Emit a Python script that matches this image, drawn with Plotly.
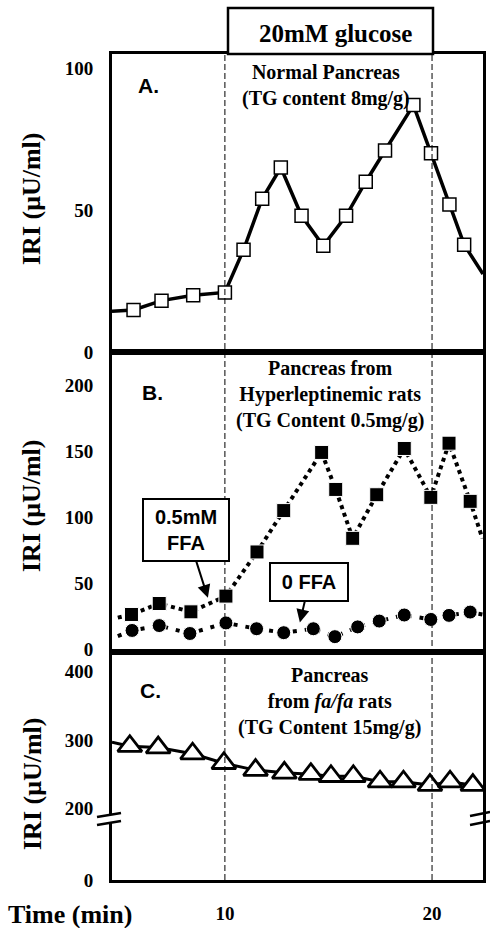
import plotly.graph_objects as go

# ---------------- data ----------------
# Panel A: normal pancreas (open squares); first/last entries are where the line meets the frame
t_a = [4.55, 5.59, 6.94, 8.47, 10.0, 10.9, 11.8, 12.7, 13.7, 14.75, 15.85, 16.8, 17.73, 19.1, 19.95, 20.84, 21.55, 22.46]
iri_a = [14.4, 14.8, 18.1, 20.0, 21.0, 36.0, 54.0, 65.0, 48.0, 37.4, 48.0, 60.0, 71.0, 87.0, 70.0, 52.0, 37.8, 27.5]

# Panel B: hyperleptinemic rats, 0.5mM FFA (filled squares) and 0 FFA (filled circles)
t_b_ffa = [4.83, 5.49, 6.83, 8.36, 10.05, 11.55, 12.84, 14.67, 15.35, 16.17, 17.33, 18.66, 19.94, 20.82, 21.84, 22.43]
iri_b_ffa = [24.0, 26.4, 34.7, 28.4, 40.3, 73.7, 105.0, 149.0, 121.0, 84.0, 117.0, 152.0, 115.0, 156.0, 112.0, 84.0]
t_b_0 = [4.83, 5.52, 6.83, 8.31, 10.05, 11.53, 12.84, 14.27, 15.31, 16.41, 17.45, 18.66, 19.94, 20.82, 21.84, 22.43]
iri_b_0 = [10.0, 14.3, 18.0, 12.0, 20.0, 15.6, 12.6, 15.6, 9.6, 17.0, 21.4, 26.0, 22.6, 25.7, 28.2, 26.4]

# Panel C: fa/fa rats (open triangles)
t_c = [4.55, 5.41, 6.78, 8.44, 9.95, 11.48, 12.87, 14.15, 15.12, 16.2, 17.49, 18.62, 19.9, 20.87, 21.97, 22.46]
iri_c = [297, 291, 289, 280, 266, 256, 252, 250, 247, 247, 239, 239, 234, 239, 234, 230]

# axis ticks / labels
x_tickvals = [10, 20]
x_ticktext = ["10", "20"]
a_tickvals = [0, 50, 100]
b_tickvals = [0, 50, 100, 150, 200]
c_tickvals = [95, 200, 300, 400]          # broken axis: lowest tick stands for 0
c_ticktext = ["0", "200", "300", "400"]
glucose_on, glucose_off = 10, 20

# --------------- figure ---------------
SERIF = "Liberation Serif"
SANS = "Liberation Sans"
W, H = 490, 928
L, R, T, B = 112, 7, 54, 48
PW, PH = W - L - R, H - T - B

def py(px):  # pixel row -> paper y
    return (H - B - px) / PH

def pxx(px):  # pixel col -> paper x
    return (px - L) / PW

def msize(n, s):
    return [0] + [s] * (n - 2) + [0]

fig = go.Figure()

fig.add_trace(go.Scatter(
    x=t_a, y=iri_a, xaxis="x", yaxis="y", mode="lines+markers",
    line=dict(color="black", width=3.5),
    marker=dict(symbol="square", size=msize(len(t_a), 13), color="white", opacity=1,
                line=dict(color="black", width=1.5)),
    showlegend=False))

fig.add_trace(go.Scatter(
    x=t_b_ffa, y=iri_b_ffa, xaxis="x2", yaxis="y2", mode="lines+markers",
    line=dict(color="black", width=4, dash="4px,4px"),
    marker=dict(symbol="square", size=msize(len(t_b_ffa), 14), color="black", opacity=1),
    showlegend=False))

fig.add_trace(go.Scatter(
    x=t_b_0, y=iri_b_0, xaxis="x2", yaxis="y2", mode="lines+markers",
    line=dict(color="black", width=4, dash="4px,8px"),
    marker=dict(symbol="circle", size=msize(len(t_b_0), 14), color="black", opacity=1),
    showlegend=False))

fig.add_trace(go.Scatter(
    x=t_c, y=iri_c, xaxis="x3", yaxis="y3", mode="lines+markers",
    line=dict(color="black", width=3),
    marker=dict(symbol="triangle-up", size=msize(len(t_c), 21), color="white", opacity=1,
                line=dict(color="black", width=2.8)),
    showlegend=False))

xr = [4.55, 22.46]
common_x = dict(range=xr, showgrid=False, zeroline=False, showline=True, mirror=True,
                linecolor="black", linewidth=3, ticks="", tickvals=x_tickvals,
                ticktext=x_ticktext, automargin=False)
common_y = dict(showgrid=False, zeroline=False, showline=True, mirror=True,
                linecolor="black", linewidth=3, ticks="", automargin=False,
                tickfont=dict(family=SERIF, size=19, color="black", weight="bold"),
                ticklabelstandoff=12)

yA0, yB0 = py(352), py(652)
fig.update_layout(
    width=W, height=H,
    margin=dict(l=L, r=R, t=T, b=B, autoexpand=False),
    paper_bgcolor="white", plot_bgcolor="white",
    xaxis=dict(**common_x, anchor="y", showticklabels=False),
    xaxis2=dict(**common_x, anchor="y2", matches="x", showticklabels=False),
    xaxis3=dict(**common_x, anchor="y3", matches="x", showticklabels=True,
                tickfont=dict(family=SERIF, size=19, color="black", weight="bold"),
                ticklabelstandoff=14),
    yaxis=dict(**common_y, domain=[yA0, 1], range=[0, 105], tickvals=a_tickvals, anchor="x"),
    yaxis2=dict(**common_y, domain=[yB0, yA0], range=[-2, 225], tickvals=b_tickvals, anchor="x2"),
    yaxis3=dict(**common_y, domain=[0, yB0], range=[95, 429], tickvals=c_tickvals,
                ticktext=c_ticktext, anchor="x3"),
)

shapes = []
# dashed glucose on/off lines across all panels
for xv in (glucose_on, glucose_off):
    shapes.append(dict(type="line", xref="x3", yref="paper", x0=xv, x1=xv, y0=0, y1=1,
                       line=dict(color="black", width=1, dash="6px,3px")))
# glucose box
shapes.append(dict(type="rect", xref="paper", yref="paper", x0=pxx(228), x1=pxx(433),
                   y0=1, y1=py(8), line=dict(color="black", width=2.5), fillcolor="white"))
# axis break marks (panel C)
for side_x0, side_x1, ys in ((pxx(97), pxx(121), (815, 823)), (pxx(470), pxx(490), (814, 823))):
    shapes.append(dict(type="rect", xref="paper", yref="paper",
                       x0=side_x0 + 0.02, x1=side_x1 - 0.02, y0=py(ys[1]), y1=py(ys[0]),
                       line=dict(width=0), fillcolor="white"))
    for yy in ys:
        shapes.append(dict(type="line", xref="paper", yref="paper",
                           x0=side_x0, x1=side_x1, y0=py(yy + 2), y1=py(yy - 2),
                           line=dict(color="black", width=2.5)))
fig.update_layout(shapes=shapes)

title_font = dict(family=SERIF, size=20, color="black", weight="bold")
big_font = dict(family=SERIF, size=26, color="black", weight="bold")
lab_font = dict(family=SANS, size=21, color="black", weight="bold")
box_font = dict(family=SANS, size=20, color="black", weight="bold")

ann = [
    dict(text="20mM glucose", x=pxx(335), y=py(33), font=dict(family=SERIF, size=25, color="black", weight="bold")),
    dict(text="Normal Pancreas<br>(TG content 8mg/g)", x=pxx(326), y=py(86), font=title_font),
    dict(text="Pancreas from<br>Hyperleptinemic rats<br>(TG Content 0.5mg/g)", x=pxx(330), y=py(394), font=title_font),
    dict(text="Pancreas<br>from <i>fa/fa</i> rats<br>(TG Content 15mg/g)", x=pxx(329), y=py(701), font=title_font),
    dict(text="A.", x=pxx(148), y=py(86), font=lab_font),
    dict(text="B.", x=pxx(152), y=py(392), font=lab_font),
    dict(text="C.", x=pxx(150), y=py(690), font=lab_font),
    dict(text="IRI (μU/ml)", x=pxx(32), y=py(199), textangle=-90, font=big_font),
    dict(text="IRI (μU/ml)", x=pxx(32), y=py(506), textangle=-90, font=big_font),
    dict(text="IRI (μU/ml)", x=pxx(32), y=py(784), textangle=-90, font=big_font),
    dict(text="Time (min)", x=pxx(70), y=py(914), font=big_font),
]
annotations = []
for a in ann:
    d = dict(xref="paper", yref="paper", showarrow=False, xanchor="center", yanchor="middle")
    d.update(a)
    annotations.append(d)

# boxed FFA labels with arrows
annotations.append(dict(
    text="0.5mM<br>FFA", xref="x2", yref="y2", x=9.18, y=39,
    axref="x2", ayref="y2", ax=8.14, ay=90, showarrow=True,
    arrowhead=2, arrowsize=1.3, arrowwidth=2, arrowcolor="black",
    font=box_font, bordercolor="black", borderwidth=2, borderpad=3,
    bgcolor="white", width=78, height=54))
annotations.append(dict(
    text="0 FFA", xref="x2", yref="y2", x=13.62, y=20.4,
    axref="x2", ayref="y2", ax=14.08, ay=51.3, showarrow=True,
    arrowhead=2, arrowsize=1.3, arrowwidth=2, arrowcolor="black",
    font=box_font, bordercolor="black", borderwidth=2, borderpad=3,
    bgcolor="white", width=70, height=30))
fig.update_layout(annotations=annotations)

fig.write_html("out.html", config={"displayModeBar": False},
               post_script="document.body.style.margin='0';document.body.style.overflow='hidden';")
